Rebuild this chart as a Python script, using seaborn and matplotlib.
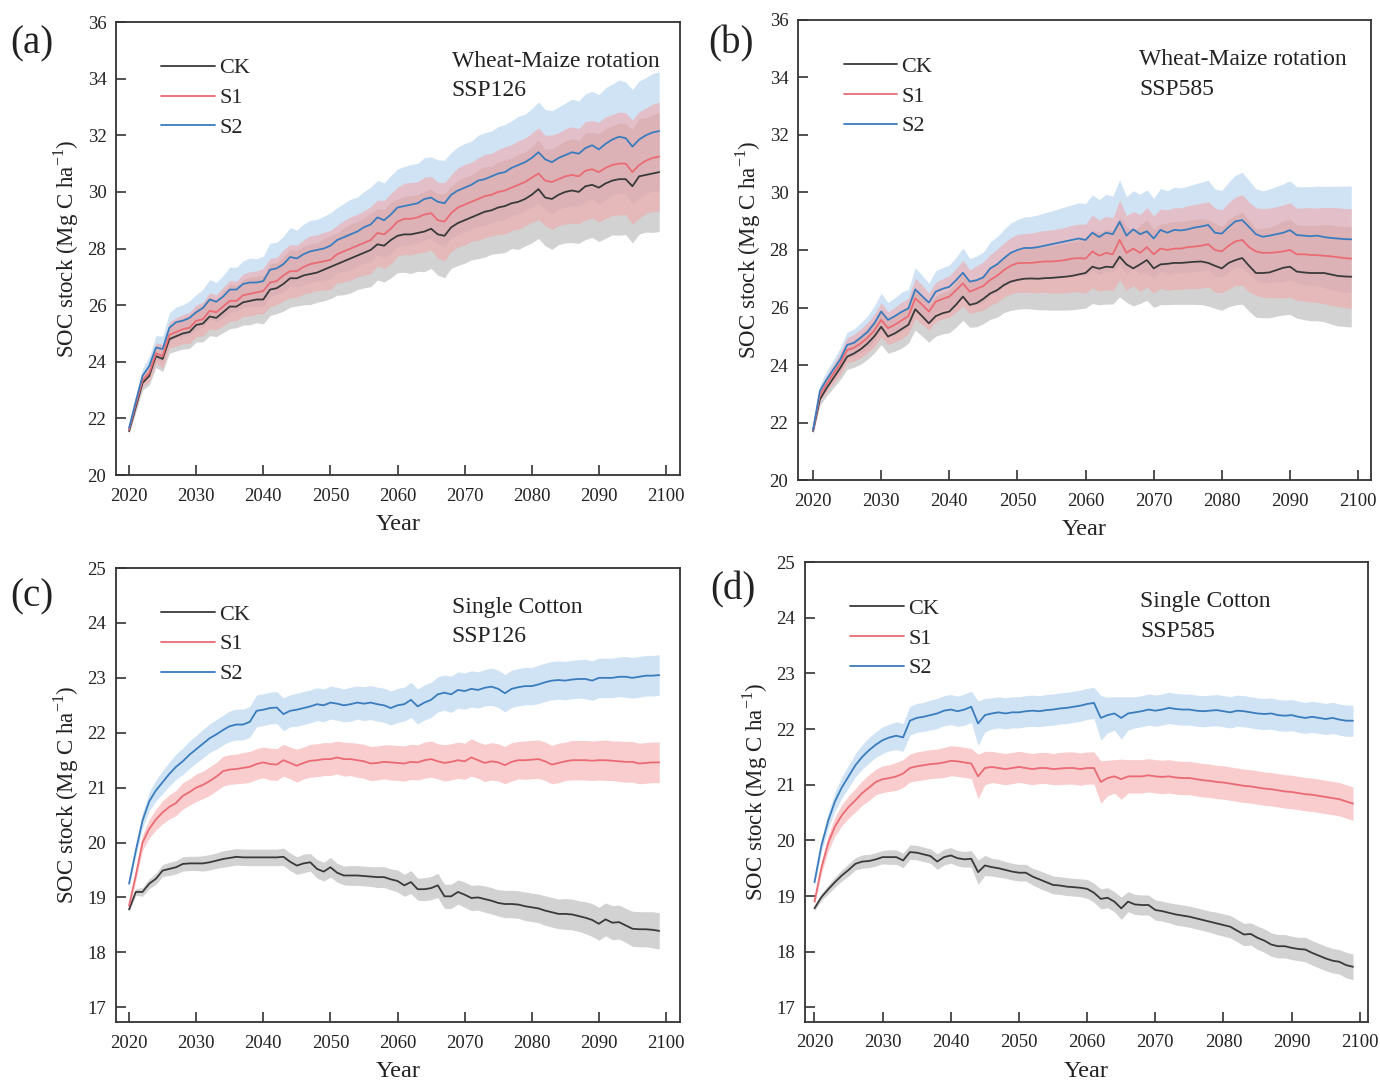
import numpy as np
import pandas as pd
import matplotlib
matplotlib.use("Agg")
import matplotlib.pyplot as plt
from matplotlib.lines import Line2D
import seaborn as sns

years = list(range(2020, 2100))
scenarios = ['CK', 'S1', 'S2']

# ---------------- (a) Wheat-Maize rotation, SSP126 ----------------
a_ck = [21.55, 22.4, 23.25, 23.5, 24.2, 24.1, 24.8, 24.9, 25.0, 25.05,
        25.3, 25.35, 25.6, 25.55, 25.75, 25.95, 25.95, 26.1, 26.15, 26.2,
        26.2, 26.55, 26.6, 26.75, 26.95, 26.95, 27.05, 27.1, 27.15, 27.25,
        27.35, 27.45, 27.55, 27.65, 27.75, 27.85, 27.95, 28.15, 28.1, 28.3,
        28.45, 28.5, 28.5, 28.55, 28.6, 28.7, 28.5, 28.45, 28.75, 28.9,
        29.0, 29.1, 29.2, 29.3, 29.35, 29.45, 29.5, 29.6, 29.65, 29.75,
        29.9, 30.1, 29.8, 29.75, 29.9, 30.0, 30.05, 30.0, 30.2, 30.25,
        30.15, 30.3, 30.4, 30.45, 30.45, 30.2, 30.55, 30.6, 30.65, 30.7]
a_s1 = [21.6, 22.5, 23.35, 23.6, 24.3, 24.2, 24.95, 25.05, 25.15, 25.2,
        25.45, 25.5, 25.8, 25.75, 25.95, 26.15, 26.15, 26.35, 26.4, 26.45,
        26.5, 26.8, 26.85, 27.05, 27.2, 27.2, 27.35, 27.45, 27.5, 27.55,
        27.6, 27.8, 27.9, 28.0, 28.1, 28.2, 28.3, 28.55, 28.5, 28.7,
        28.95, 29.05, 29.05, 29.1, 29.2, 29.25, 29.0, 28.95, 29.25, 29.45,
        29.55, 29.65, 29.75, 29.85, 29.9, 30.0, 30.05, 30.15, 30.25, 30.35,
        30.5, 30.65, 30.4, 30.35, 30.45, 30.55, 30.6, 30.55, 30.75, 30.8,
        30.7, 30.85, 30.95, 31.0, 31.0, 30.7, 30.95, 31.1, 31.2, 31.25]
a_s2 = [21.66, 22.6, 23.5, 23.85, 24.5, 24.45, 25.2, 25.4, 25.45, 25.55,
        25.75, 25.9, 26.2, 26.12, 26.3, 26.55, 26.55, 26.75, 26.8, 26.8,
        26.85, 27.25, 27.3, 27.45, 27.7, 27.65, 27.8, 27.9, 27.95, 28.0,
        28.1, 28.3, 28.4, 28.5, 28.6, 28.75, 28.85, 29.1, 29.0, 29.2,
        29.45, 29.5, 29.55, 29.6, 29.75, 29.8, 29.65, 29.6, 29.9, 30.05,
        30.15, 30.25, 30.4, 30.45, 30.55, 30.65, 30.7, 30.85, 30.95, 31.05,
        31.2, 31.4, 31.15, 31.05, 31.2, 31.3, 31.4, 31.35, 31.55, 31.65,
        31.5, 31.7, 31.85, 31.95, 31.9, 31.6, 31.85, 32.0, 32.1, 32.15]
a_ck_sd = [0.10, 0.18, 0.25, 0.32, 0.40, 0.45, 0.50, 0.52, 0.55, 0.58,
           0.60, 0.65, 0.68, 0.66, 0.72, 0.78, 0.75, 0.80, 0.84, 0.82,
           0.86, 0.92, 0.90, 0.96, 1.02, 0.98, 1.04, 1.08, 1.05, 1.10,
           1.12, 1.10, 1.18, 1.22, 1.20, 1.24, 1.30, 1.26, 1.28, 1.34,
           1.30, 1.34, 1.38, 1.35, 1.42, 1.40, 1.44, 1.48, 1.45, 1.50,
           1.52, 1.50, 1.56, 1.60, 1.55, 1.62, 1.64, 1.60, 1.68, 1.66,
           1.70, 1.74, 1.70, 1.78, 1.76, 1.80, 1.84, 1.82, 1.88, 1.86,
           1.90, 1.94, 1.92, 1.98, 1.96, 2.00, 2.04, 2.02, 2.08, 2.10]
a_s1_sd = [0.10, 0.16, 0.22, 0.30, 0.36, 0.42, 0.46, 0.50, 0.52, 0.55,
           0.56, 0.60, 0.64, 0.62, 0.68, 0.72, 0.70, 0.75, 0.78, 0.76,
           0.80, 0.85, 0.84, 0.90, 0.94, 0.92, 0.96, 1.00, 0.98, 1.02,
           1.04, 1.02, 1.08, 1.12, 1.10, 1.14, 1.18, 1.16, 1.20, 1.24,
           1.22, 1.26, 1.28, 1.26, 1.32, 1.30, 1.34, 1.38, 1.36, 1.40,
           1.42, 1.40, 1.45, 1.48, 1.46, 1.50, 1.54, 1.52, 1.56, 1.55,
           1.58, 1.62, 1.60, 1.66, 1.64, 1.68, 1.70, 1.68, 1.74, 1.72,
           1.76, 1.80, 1.78, 1.82, 1.80, 1.84, 1.88, 1.86, 1.90, 1.92]
a_s2_sd = [0.10, 0.18, 0.26, 0.34, 0.42, 0.46, 0.52, 0.54, 0.56, 0.60,
           0.62, 0.66, 0.70, 0.68, 0.74, 0.80, 0.78, 0.82, 0.86, 0.84,
           0.88, 0.94, 0.92, 0.98, 1.04, 1.00, 1.06, 1.10, 1.08, 1.14,
           1.16, 1.14, 1.20, 1.24, 1.22, 1.26, 1.32, 1.30, 1.32, 1.38,
           1.36, 1.40, 1.42, 1.40, 1.46, 1.44, 1.48, 1.52, 1.50, 1.54,
           1.56, 1.54, 1.60, 1.64, 1.60, 1.66, 1.68, 1.66, 1.72, 1.70,
           1.74, 1.78, 1.76, 1.82, 1.80, 1.84, 1.88, 1.86, 1.92, 1.90,
           1.94, 1.98, 1.96, 2.00, 1.98, 2.02, 2.06, 2.04, 2.08, 2.10]

# ---------------- (b) Wheat-Maize rotation, SSP585 ----------------
b_ck = [21.7, 22.8, 23.2, 23.55, 23.9, 24.29, 24.4, 24.55, 24.75, 25.0,
        25.33, 24.99, 25.1, 25.25, 25.4, 25.94, 25.7, 25.45, 25.7, 25.8,
        25.86, 26.1, 26.38, 26.09, 26.15, 26.3, 26.49, 26.6, 26.78, 26.9,
        26.96, 27.0, 27.01, 27.0, 27.02, 27.03, 27.05, 27.07, 27.1, 27.15,
        27.2, 27.42, 27.35, 27.42, 27.4, 27.77, 27.5, 27.36, 27.5, 27.65,
        27.36, 27.5, 27.52, 27.55, 27.55, 27.57, 27.59, 27.6, 27.55, 27.45,
        27.36, 27.55, 27.65, 27.72, 27.45, 27.2, 27.2, 27.22, 27.3, 27.38,
        27.42, 27.25, 27.22, 27.2, 27.2, 27.2, 27.15, 27.1, 27.08, 27.07]
b_s1 = [21.72, 22.95, 23.35, 23.7, 24.05, 24.52, 24.6, 24.75, 24.95, 25.2,
        25.57, 25.28, 25.4, 25.55, 25.7, 26.32, 26.1, 25.86, 26.2, 26.3,
        26.38, 26.6, 26.84, 26.55, 26.65, 26.75, 26.96, 27.1, 27.3, 27.45,
        27.54, 27.55, 27.55, 27.58, 27.6, 27.6, 27.62, 27.65, 27.7, 27.72,
        27.7, 27.95, 27.8, 27.9, 27.85, 28.35, 27.9, 28.05, 27.9, 28.1,
        27.85, 28.05, 28.0, 28.05, 28.05, 28.1, 28.12, 28.15, 28.2, 28.0,
        27.95, 28.15, 28.3, 28.35, 28.1, 27.95, 27.9, 27.9, 27.92, 27.95,
        28.0, 27.85, 27.85, 27.83, 27.82, 27.8, 27.78, 27.75, 27.72, 27.7]
b_s2 = [21.74, 23.1, 23.5, 23.85, 24.2, 24.7, 24.77, 24.95, 25.15, 25.45,
        25.86, 25.57, 25.7, 25.85, 25.97, 26.63, 26.4, 26.17, 26.55, 26.65,
        26.72, 26.95, 27.21, 26.9, 26.95, 27.05, 27.36, 27.5, 27.71, 27.9,
        28.0, 28.07, 28.07, 28.1, 28.15, 28.2, 28.25, 28.3, 28.35, 28.4,
        28.35, 28.6, 28.45, 28.6, 28.55, 28.98, 28.5, 28.72, 28.55, 28.65,
        28.4, 28.7, 28.6, 28.7, 28.68, 28.72, 28.78, 28.82, 28.87, 28.6,
        28.57, 28.8, 29.0, 29.04, 28.8, 28.55, 28.46, 28.5, 28.55, 28.6,
        28.69, 28.52, 28.5, 28.48, 28.5, 28.45, 28.42, 28.4, 28.38, 28.37]
b_ck_sd = [0.10, 0.20, 0.28, 0.34, 0.40, 0.44, 0.48, 0.52, 0.55, 0.58,
           0.62, 0.58, 0.62, 0.66, 0.64, 0.72, 0.70, 0.66, 0.70, 0.72,
           0.74, 0.78, 0.82, 0.78, 0.82, 0.86, 0.90, 0.94, 0.96, 1.00,
           1.02, 1.04, 1.06, 1.08, 1.10, 1.12, 1.14, 1.16, 1.18, 1.20,
           1.22, 1.28, 1.26, 1.30, 1.28, 1.40, 1.32, 1.30, 1.36, 1.40,
           1.36, 1.40, 1.42, 1.44, 1.44, 1.46, 1.48, 1.50, 1.50, 1.48,
           1.46, 1.52, 1.56, 1.60, 1.58, 1.54, 1.56, 1.58, 1.60, 1.64,
           1.66, 1.62, 1.64, 1.66, 1.66, 1.70, 1.72, 1.74, 1.74, 1.75]
b_s1_sd = [0.10, 0.19, 0.27, 0.33, 0.39, 0.43, 0.47, 0.50, 0.53, 0.56,
           0.60, 0.57, 0.60, 0.64, 0.62, 0.70, 0.68, 0.64, 0.68, 0.70,
           0.72, 0.76, 0.80, 0.76, 0.80, 0.84, 0.88, 0.92, 0.94, 0.98,
           1.00, 1.02, 1.04, 1.06, 1.08, 1.10, 1.12, 1.14, 1.16, 1.18,
           1.20, 1.26, 1.24, 1.28, 1.26, 1.38, 1.30, 1.28, 1.34, 1.38,
           1.34, 1.38, 1.40, 1.42, 1.42, 1.44, 1.46, 1.48, 1.48, 1.46,
           1.44, 1.50, 1.54, 1.58, 1.56, 1.52, 1.54, 1.56, 1.58, 1.62,
           1.64, 1.60, 1.62, 1.64, 1.64, 1.68, 1.70, 1.72, 1.72, 1.74]
b_s2_sd = [0.10, 0.20, 0.28, 0.34, 0.40, 0.44, 0.48, 0.52, 0.56, 0.60,
           0.64, 0.60, 0.64, 0.68, 0.66, 0.76, 0.72, 0.68, 0.72, 0.74,
           0.76, 0.80, 0.86, 0.80, 0.84, 0.88, 0.92, 0.96, 1.00, 1.04,
           1.06, 1.08, 1.10, 1.12, 1.14, 1.16, 1.18, 1.20, 1.22, 1.24,
           1.26, 1.32, 1.30, 1.34, 1.32, 1.46, 1.36, 1.34, 1.40, 1.44,
           1.40, 1.44, 1.46, 1.48, 1.48, 1.50, 1.52, 1.54, 1.56, 1.52,
           1.50, 1.56, 1.60, 1.66, 1.62, 1.58, 1.60, 1.62, 1.66, 1.70,
           1.72, 1.68, 1.70, 1.72, 1.72, 1.76, 1.80, 1.82, 1.84, 1.86]

# ---------------- (c) Single Cotton, SSP126 ----------------
c_ck = [18.78, 19.1, 19.1, 19.25, 19.34, 19.49, 19.52, 19.55, 19.61, 19.62,
        19.62, 19.62, 19.64, 19.67, 19.7, 19.72, 19.74, 19.73, 19.73, 19.73,
        19.73, 19.73, 19.73, 19.74, 19.65, 19.58, 19.62, 19.64, 19.52, 19.47,
        19.55, 19.45, 19.4, 19.4, 19.4, 19.39, 19.38, 19.37, 19.37, 19.33,
        19.3, 19.22, 19.28, 19.15, 19.15, 19.17, 19.22, 19.02, 19.02, 19.1,
        19.05, 18.99, 19.0, 18.97, 18.94, 18.9, 18.88, 18.88, 18.87, 18.84,
        18.82, 18.8, 18.76, 18.73, 18.7, 18.7, 18.69, 18.66, 18.63, 18.59,
        18.52, 18.6, 18.54, 18.55, 18.49, 18.43, 18.42, 18.42, 18.41, 18.39]
c_s1 = [18.85, 19.4, 20.0, 20.25, 20.42, 20.55, 20.65, 20.72, 20.85, 20.92,
        21.0, 21.05, 21.12, 21.2, 21.3, 21.33, 21.34, 21.36, 21.38, 21.43,
        21.46, 21.43, 21.42, 21.5, 21.45, 21.4, 21.45, 21.49, 21.5, 21.52,
        21.52, 21.55, 21.52, 21.52, 21.5, 21.48, 21.44, 21.45, 21.47, 21.46,
        21.45, 21.44, 21.47, 21.46, 21.5, 21.52, 21.48, 21.45, 21.47, 21.5,
        21.48, 21.55, 21.5, 21.45, 21.48, 21.46, 21.41, 21.47, 21.5, 21.5,
        21.51, 21.52, 21.48, 21.42, 21.45, 21.48, 21.5, 21.5, 21.5, 21.49,
        21.5, 21.5, 21.49, 21.48, 21.47, 21.47, 21.44, 21.45, 21.46, 21.46]
c_s2 = [19.25, 19.85, 20.4, 20.75, 20.95, 21.1, 21.25, 21.38, 21.48, 21.6,
        21.7, 21.8, 21.9, 21.97, 22.05, 22.12, 22.15, 22.15, 22.2, 22.4,
        22.42, 22.45, 22.46, 22.34, 22.4, 22.42, 22.45, 22.48, 22.52, 22.5,
        22.55, 22.53, 22.5, 22.52, 22.55, 22.53, 22.55, 22.52, 22.5, 22.45,
        22.5, 22.52, 22.6, 22.48, 22.55, 22.6, 22.7, 22.73, 22.7, 22.78,
        22.76, 22.8, 22.78, 22.82, 22.84, 22.8, 22.72, 22.8, 22.83, 22.85,
        22.85, 22.88, 22.92, 22.95, 22.96, 22.95, 22.97, 22.98, 22.98, 22.95,
        23.0, 23.0, 23.0, 23.02, 23.02, 23.0, 23.02, 23.04, 23.04, 23.05]
c_ck_sd = [0.04, 0.06, 0.08, 0.09, 0.10, 0.11, 0.12, 0.12, 0.13, 0.13,
           0.13, 0.14, 0.14, 0.14, 0.15, 0.15, 0.15, 0.15, 0.15, 0.15,
           0.15, 0.15, 0.15, 0.16, 0.16, 0.16, 0.17, 0.16, 0.17, 0.17,
           0.18, 0.17, 0.17, 0.18, 0.18, 0.18, 0.18, 0.19, 0.19, 0.19,
           0.20, 0.20, 0.21, 0.20, 0.21, 0.21, 0.22, 0.22, 0.22, 0.22,
           0.23, 0.23, 0.23, 0.24, 0.24, 0.24, 0.25, 0.25, 0.25, 0.26,
           0.26, 0.26, 0.27, 0.27, 0.27, 0.28, 0.28, 0.28, 0.29, 0.30,
           0.30, 0.30, 0.31, 0.31, 0.31, 0.32, 0.32, 0.32, 0.33, 0.33]
c_s1_sd = [0.05, 0.10, 0.14, 0.17, 0.19, 0.21, 0.22, 0.23, 0.24, 0.24,
           0.25, 0.25, 0.26, 0.26, 0.27, 0.27, 0.27, 0.28, 0.28, 0.28,
           0.28, 0.29, 0.29, 0.29, 0.29, 0.30, 0.29, 0.30, 0.30, 0.30,
           0.30, 0.30, 0.31, 0.30, 0.31, 0.31, 0.31, 0.31, 0.31, 0.32,
           0.32, 0.32, 0.32, 0.32, 0.33, 0.33, 0.32, 0.33, 0.33, 0.33,
           0.33, 0.34, 0.33, 0.34, 0.34, 0.34, 0.34, 0.35, 0.34, 0.35,
           0.35, 0.35, 0.35, 0.35, 0.36, 0.35, 0.36, 0.36, 0.36, 0.36,
           0.36, 0.37, 0.36, 0.37, 0.37, 0.37, 0.37, 0.37, 0.37, 0.37]
c_s2_sd = [0.05, 0.10, 0.14, 0.17, 0.19, 0.21, 0.22, 0.23, 0.24, 0.25,
           0.25, 0.26, 0.26, 0.27, 0.27, 0.28, 0.28, 0.28, 0.28, 0.29,
           0.29, 0.29, 0.29, 0.30, 0.29, 0.30, 0.30, 0.30, 0.30, 0.30,
           0.30, 0.30, 0.30, 0.31, 0.30, 0.31, 0.31, 0.31, 0.31, 0.31,
           0.31, 0.31, 0.32, 0.32, 0.32, 0.32, 0.32, 0.32, 0.33, 0.33,
           0.33, 0.33, 0.33, 0.33, 0.34, 0.34, 0.34, 0.34, 0.34, 0.34,
           0.34, 0.35, 0.35, 0.35, 0.35, 0.35, 0.35, 0.35, 0.36, 0.36,
           0.36, 0.36, 0.36, 0.36, 0.37, 0.37, 0.37, 0.37, 0.37, 0.37]

# ---------------- (d) Single Cotton, SSP585 ----------------
d_ck = [18.78, 18.98, 19.12, 19.25, 19.37, 19.47, 19.58, 19.62, 19.63, 19.66,
        19.7, 19.7, 19.7, 19.64, 19.79, 19.78, 19.75, 19.72, 19.62, 19.7,
        19.73, 19.68, 19.66, 19.67, 19.43, 19.55, 19.52, 19.5, 19.47, 19.44,
        19.42, 19.42, 19.35, 19.3, 19.25, 19.2, 19.19, 19.17, 19.16, 19.15,
        19.13, 19.06, 18.95, 18.97, 18.9, 18.78, 18.9, 18.85, 18.84, 18.84,
        18.75, 18.73, 18.7, 18.67, 18.65, 18.63, 18.6, 18.57, 18.54, 18.51,
        18.48, 18.45, 18.38, 18.31, 18.32, 18.25, 18.2, 18.13, 18.1, 18.1,
        18.07, 18.05, 18.04, 17.98, 17.93, 17.88, 17.84, 17.82, 17.76, 17.73]
d_s1 = [18.9, 19.5, 19.95, 20.25, 20.45, 20.6, 20.72, 20.85, 20.95, 21.05,
        21.1, 21.12, 21.15, 21.2, 21.3, 21.33, 21.35, 21.37, 21.38, 21.4,
        21.43, 21.42, 21.4, 21.38, 21.15, 21.3, 21.32, 21.3, 21.28, 21.3,
        21.32, 21.3, 21.28, 21.3, 21.3, 21.28, 21.29, 21.3, 21.3, 21.28,
        21.3, 21.3, 21.05, 21.12, 21.15, 21.1, 21.15, 21.15, 21.15, 21.17,
        21.15, 21.14, 21.15, 21.13, 21.12, 21.12, 21.1, 21.08, 21.07, 21.05,
        21.04, 21.02, 21.0, 20.98, 20.97, 20.95, 20.93, 20.92, 20.9, 20.88,
        20.87, 20.85, 20.83, 20.82, 20.8, 20.78, 20.76, 20.74, 20.7, 20.66]
d_s2 = [19.25, 19.9, 20.35, 20.7, 20.95, 21.15, 21.35, 21.5, 21.62, 21.72,
        21.8, 21.85, 21.88, 21.85, 22.15, 22.2, 22.22, 22.25, 22.28, 22.33,
        22.35, 22.32, 22.35, 22.4, 22.1, 22.25, 22.28, 22.3, 22.28, 22.3,
        22.3, 22.32, 22.33, 22.32, 22.34, 22.35, 22.37, 22.38, 22.4, 22.42,
        22.45, 22.47, 22.2, 22.25, 22.28, 22.2, 22.28, 22.3, 22.32, 22.35,
        22.33, 22.35, 22.38, 22.36, 22.35, 22.35, 22.33, 22.32, 22.33, 22.34,
        22.32, 22.3, 22.33, 22.32, 22.3, 22.28, 22.27, 22.28, 22.25, 22.24,
        22.25, 22.22, 22.2, 22.22, 22.2, 22.18, 22.2, 22.17, 22.15, 22.15]
d_ck_sd = [0.04, 0.06, 0.08, 0.09, 0.10, 0.11, 0.11, 0.12, 0.12, 0.12,
           0.12, 0.13, 0.13, 0.13, 0.13, 0.13, 0.13, 0.13, 0.14, 0.14,
           0.14, 0.14, 0.14, 0.15, 0.22, 0.18, 0.16, 0.16, 0.15, 0.15,
           0.15, 0.15, 0.15, 0.16, 0.16, 0.16, 0.16, 0.16, 0.16, 0.16,
           0.17, 0.17, 0.18, 0.18, 0.18, 0.20, 0.18, 0.18, 0.18, 0.18,
           0.18, 0.18, 0.18, 0.19, 0.19, 0.19, 0.19, 0.19, 0.19, 0.20,
           0.20, 0.20, 0.20, 0.20, 0.20, 0.21, 0.21, 0.21, 0.21, 0.21,
           0.21, 0.21, 0.22, 0.22, 0.22, 0.22, 0.22, 0.22, 0.23, 0.23]
d_s1_sd = [0.05, 0.10, 0.14, 0.17, 0.19, 0.20, 0.21, 0.22, 0.23, 0.23,
           0.24, 0.24, 0.25, 0.25, 0.25, 0.26, 0.26, 0.26, 0.26, 0.27,
           0.27, 0.27, 0.27, 0.27, 0.40, 0.30, 0.28, 0.28, 0.28, 0.28,
           0.28, 0.28, 0.28, 0.28, 0.28, 0.28, 0.29, 0.29, 0.29, 0.29,
           0.29, 0.29, 0.38, 0.32, 0.30, 0.36, 0.30, 0.30, 0.30, 0.30,
           0.30, 0.30, 0.30, 0.30, 0.30, 0.30, 0.30, 0.30, 0.30, 0.30,
           0.30, 0.30, 0.30, 0.30, 0.30, 0.30, 0.30, 0.30, 0.30, 0.30,
           0.30, 0.30, 0.30, 0.30, 0.30, 0.30, 0.30, 0.30, 0.30, 0.30]
d_s2_sd = [0.05, 0.10, 0.14, 0.17, 0.19, 0.20, 0.21, 0.22, 0.23, 0.23,
           0.24, 0.24, 0.25, 0.25, 0.26, 0.26, 0.26, 0.27, 0.27, 0.27,
           0.27, 0.27, 0.28, 0.28, 0.40, 0.30, 0.28, 0.28, 0.28, 0.28,
           0.28, 0.28, 0.28, 0.28, 0.28, 0.28, 0.28, 0.28, 0.28, 0.28,
           0.28, 0.28, 0.40, 0.32, 0.30, 0.38, 0.30, 0.28, 0.28, 0.28,
           0.28, 0.28, 0.28, 0.28, 0.28, 0.28, 0.28, 0.28, 0.28, 0.28,
           0.28, 0.28, 0.28, 0.28, 0.28, 0.28, 0.28, 0.28, 0.28, 0.28,
           0.28, 0.28, 0.28, 0.28, 0.28, 0.28, 0.28, 0.28, 0.28, 0.28]

line_colors = {'CK': '#3a3a3a', 'S1': '#ea6b73', 'S2': '#3a7cbd'}
band_colors = {'CK': '#b4b4b4', 'S1': '#f5a3a6', 'S2': '#a9cdec'}
band_alpha = {'CK': 0.6, 'S1': 0.55, 'S2': 0.55}

sns.set_theme(style="ticks")
plt.rcParams['font.family'] = ['Liberation Serif', 'DejaVu Serif']
plt.rcParams['mathtext.fontset'] = 'custom'
plt.rcParams['mathtext.rm'] = 'Liberation Serif'
plt.rcParams['axes.edgecolor'] = '#333333'
plt.rcParams['axes.linewidth'] = 1.3

fig = plt.figure(figsize=(13.8, 10.86), dpi=100)


def draw_panel(rect, ck, s1, s2, ck_sd, s1_sd, s2_sd, ylim, yticks, xlim, note):
    ax = fig.add_axes(rect)
    df = pd.DataFrame({'Year': years * 3,
                       'SOC': ck + s1 + s2,
                       'Scenario': ['CK'] * 80 + ['S1'] * 80 + ['S2'] * 80})
    # shaded spread, blue first, pink last
    for name, mean, sd in [('S2', s2, s2_sd), ('CK', ck, ck_sd), ('S1', s1, s1_sd)]:
        m = np.array(mean)
        s = np.array(sd)
        ax.fill_between(years, m - s, m + s, color=band_colors[name],
                        alpha=band_alpha[name], lw=0)
    sns.lineplot(data=df, x='Year', y='SOC', hue='Scenario', palette=line_colors,
                 linewidth=1.3, ax=ax, legend=False)
    ax.set_xlim(*xlim)
    ax.set_ylim(*ylim)
    ax.set_xticks(range(2020, 2101, 10))
    ax.set_yticks(yticks)
    ax.tick_params(direction='in', length=7, width=1.2, labelsize=13.5,
                   colors='#333333', labelcolor='#222222', top=False, right=False)
    ax.tick_params(axis='x', pad=9)
    ax.tick_params(axis='y', pad=7)
    ax.set_xlabel('Year', fontsize=17.5, labelpad=7, color='#222222')
    ax.set_ylabel('SOC stock (Mg C ha$^{\\mathregular{-1}}$)', fontsize=16.5,
                  labelpad=5, color='#222222')
    handles = [Line2D([], [], color=line_colors[n], lw=1.3) for n in scenarios]
    ax.legend(handles, scenarios, loc='upper left', bbox_to_anchor=(0.045, 0.965),
              frameon=False, fontsize=16, handlelength=2.4, handletextpad=0.2,
              labelspacing=0.42)
    ax.text(0.595, 0.937, note, transform=ax.transAxes, ha='left', va='top',
            fontsize=17, linespacing=1.55, color='#222222')
    return ax


draw_panel([0.0841, 0.5626, 0.4087, 0.4171], a_ck, a_s1, a_s2, a_ck_sd, a_s1_sd, a_s2_sd,
           (20, 36), range(20, 37, 2), (2018.06, 2102.1), 'Wheat-Maize rotation\nSSP126')
draw_panel([0.5783, 0.5580, 0.4152, 0.4236], b_ck, b_s1, b_s2, b_ck_sd, b_s1_sd, b_s2_sd,
           (20, 36), range(20, 37, 2), (2017.8, 2101.9), 'Wheat-Maize rotation\nSSP585')
draw_panel([0.0841, 0.0589, 0.4087, 0.4180], c_ck, c_s1, c_s2, c_ck_sd, c_s1_sd, c_s2_sd,
           (16.73, 25), range(17, 26), (2018.06, 2102.1), 'Single Cotton\nSSP126')
draw_panel([0.5833, 0.0590, 0.4080, 0.4235], d_ck, d_s1, d_s2, d_ck_sd, d_s1_sd, d_s2_sd,
           (16.74, 25), range(17, 26), (2018.6, 2101.2), 'Single Cotton\nSSP585')

for lab, x, y in [('(a)', 10, 44), ('(b)', 708, 44), ('(c)', 10, 597), ('(d)', 710, 590)]:
    fig.text(x / 1380, 1 - y / 1086, lab, fontsize=28, ha='left', va='center', color='#222222')

fig.savefig('out.png', dpi=100)
